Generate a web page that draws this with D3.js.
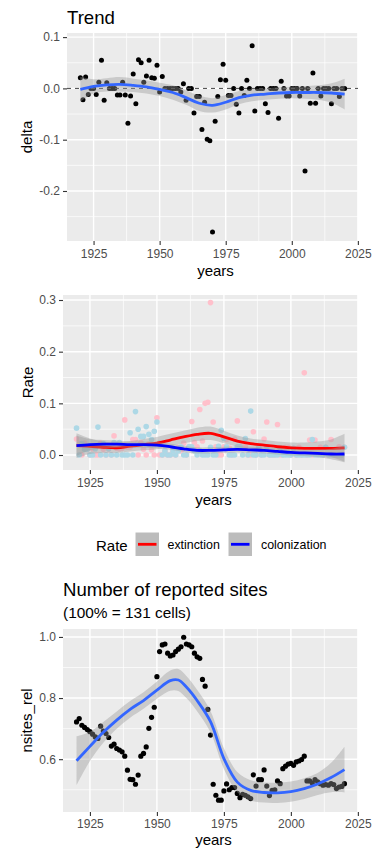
<!DOCTYPE html>
<html>
<head>
<meta charset="utf-8">
<script src="https://cdn.jsdelivr.net/npm/d3@7"></script>
<style>
  body { margin: 0; background: #ffffff; }
  svg { display: block; font-family: "Liberation Sans", Arial, sans-serif; }
</style>
</head>
<body>
<div id="chart"></div>
<script>
/* yearly values, 1920 - 2020 */
var years = [1920, 1921, 1922, 1923, 1924, 1925, 1926, 1927, 1928, 1929,
             1930, 1931, 1932, 1933, 1934, 1935, 1936, 1937, 1938, 1939,
             1940, 1941, 1942, 1943, 1944, 1945, 1946, 1947, 1948, 1949,
             1950, 1951, 1952, 1953, 1954, 1955, 1956, 1957, 1958, 1959,
             1960, 1961, 1962, 1963, 1964, 1965, 1966, 1967, 1968, 1969,
             1970, 1971, 1972, 1973, 1974, 1975, 1976, 1977, 1978, 1979,
             1980, 1981, 1982, 1983, 1984, 1985, 1986, 1987, 1988, 1989,
             1990, 1991, 1992, 1993, 1994, 1995, 1996, 1997, 1998, 1999,
             2000, 2001, 2002, 2003, 2004, 2005, 2006, 2007, 2008, 2009,
             2010, 2011, 2012, 2013, 2014, 2015, 2016, 2017, 2018, 2019,
             2020]

var delta = [0.021, -0.022, 0.022, -0.012, 0.0, 0.0, -0.012, 0.012, 0.055, -0.023,
             0.011, 0.0, 0.0, 0.0, -0.013, -0.013, 0.012, -0.013, -0.068, -0.015,
             0.028, -0.030, 0.056, 0.050, 0.012, 0.024, 0.055, 0.021, 0.020, 0.045,
             -0.007, 0.023, 0.0, 0.0, 0.0, 0.0, 0.0, 0.0, -0.007, 0.009,
             -0.023, 0.0, 0.0, -0.048, -0.016, -0.016, -0.080, -0.027, -0.099, -0.102,
             -0.280, -0.064, -0.016, 0.017, 0.047, 0.016, -0.014, -0.014, 0.0, -0.031,
             -0.048, 0.0, -0.014, 0.016, 0.0, 0.083, -0.044, 0.0, 0.0, 0.0,
             -0.030, -0.047, 0.0, 0.0, 0.0, -0.058, 0.014, 0.0, -0.015, -0.015,
             0.0, 0.0, 0.0, -0.015, 0.0, -0.161, 0.0, -0.029, 0.030, -0.029,
             0.0, -0.015, 0.0, 0.0, 0.0, -0.030, 0.0, 0.0, -0.016, 0.0,
             0.0]

var extinction = [0.031, 0.022, 0.0, 0.023, 0.011, 0.0, 0.012, 0.0, 0.0, 0.023,
                  0.011, 0.0, 0.012, 0.0, 0.037, 0.013, 0.012, 0.013, 0.068, 0.015,
                  0.015, 0.030, 0.030, 0.0, 0.024, 0.011, 0.0, 0.021, 0.010, 0.0,
                  0.072, 0.0, 0.0, 0.008, 0.0, 0.0, 0.008, 0.0, 0.015, 0.008,
                  0.023, 0.0, 0.016, 0.065, 0.024, 0.016, 0.088, 0.027, 0.100, 0.102,
                  0.295, 0.064, 0.016, 0.0, 0.0, 0.016, 0.030, 0.014, 0.0, 0.031,
                  0.066, 0.016, 0.014, 0.016, 0.0, 0.0, 0.045, 0.0, 0.014, 0.0,
                  0.031, 0.064, 0.0, 0.0, 0.0, 0.059, 0.0, 0.0, 0.015, 0.015,
                  0.0, 0.013, 0.0, 0.015, 0.0, 0.159, 0.0, 0.029, 0.0, 0.029,
                  0.0, 0.015, 0.0, 0.015, 0.0, 0.030, 0.0, 0.0, 0.016, 0.0,
                  0.015]

var colonization = [0.052, 0.0, 0.022, 0.011, 0.011, 0.0, 0.0, 0.012, 0.054, 0.0,
                    0.022, 0.0, 0.012, 0.0, 0.024, 0.0, 0.024, 0.0, 0.0, 0.0,
                    0.043, 0.0, 0.084, 0.050, 0.036, 0.036, 0.055, 0.040, 0.030, 0.046,
                    0.064, 0.023, 0.0, 0.008, 0.0, 0.0, 0.008, 0.0, 0.008, 0.016,
                    0.0, 0.0, 0.016, 0.016, 0.008, 0.0, 0.008, 0.0, 0.0, 0.0,
                    0.015, 0.0, 0.0, 0.017, 0.048, 0.032, 0.016, 0.0, 0.0, 0.0,
                    0.016, 0.016, 0.0, 0.032, 0.0, 0.085, 0.0, 0.0, 0.014, 0.0,
                    0.0, 0.016, 0.0, 0.0, 0.0, 0.0, 0.014, 0.0, 0.0, 0.0,
                    0.0, 0.013, 0.0, 0.0, 0.0, 0.0, 0.0, 0.0, 0.030, 0.0,
                    0.0, 0.0, 0.0, 0.015, 0.0, 0.0, 0.0, 0.0, 0.0, 0.0,
                    0.015]

var nsites_rel = [0.722, 0.733, 0.711, 0.704, 0.697, 0.690, 0.682, 0.673, 0.668, 0.708,
                  0.692, 0.684, 0.671, 0.643, 0.649, 0.635, 0.630, 0.624, 0.610, 0.564,
                  0.534, 0.533, 0.518, 0.548, 0.610, 0.619, 0.640, 0.701, 0.737, 0.770,
                  0.870, 0.952, 0.974, 0.977, 0.947, 0.938, 0.941, 0.952, 0.960, 0.968,
                  0.999, 0.977, 0.974, 0.968, 0.947, 0.935, 0.930, 0.861, 0.839, 0.763,
                  0.679, 0.518, 0.482, 0.466, 0.466, 0.496, 0.519, 0.500, 0.507, 0.507,
                  0.488, 0.474, 0.485, 0.482, 0.477, 0.471, 0.549, 0.512, 0.533, 0.533,
                  0.565, 0.512, 0.481, 0.498, 0.500, 0.529, 0.520, 0.569, 0.577, 0.584,
                  0.586, 0.580, 0.591, 0.594, 0.599, 0.610, 0.529, 0.529, 0.522, 0.533,
                  0.526, 0.520, 0.515, 0.517, 0.515, 0.520, 0.517, 0.504, 0.509, 0.511,
                  0.520]

/* loess curves: fit and half width of the grey band */
var smoothYears = [1920, 1925, 1930, 1935, 1940, 1945, 1950, 1955, 1960, 1965, 1970,
                   1975, 1980, 1985, 1990, 1995, 2000, 2005, 2010, 2015, 2020]
var deltaFit = [-0.002, 0.004, 0.007, 0.008, 0.006, 0.003, -0.002, -0.008, -0.018, -0.029, -0.033,
                -0.027, -0.018, -0.013, -0.011, -0.009, -0.008, -0.008, -0.008, -0.009, -0.011]
var deltaSe = [0.024, 0.014, 0.013, 0.014, 0.013, 0.013, 0.013, 0.014, 0.014, 0.015, 0.014,
               0.014, 0.013, 0.012, 0.011, 0.011, 0.011, 0.012, 0.014, 0.019, 0.030]
var extFit = [0.018, 0.017, 0.015, 0.014, 0.017, 0.020, 0.023, 0.029, 0.035, 0.040, 0.042,
              0.035, 0.027, 0.022, 0.019, 0.016, 0.014, 0.013, 0.013, 0.013, 0.014]
var extSe = [0.024, 0.015, 0.011, 0.010, 0.010, 0.011, 0.012, 0.012, 0.012, 0.013, 0.013,
             0.012, 0.011, 0.010, 0.010, 0.010, 0.010, 0.011, 0.013, 0.017, 0.027]
var colFit = [0.018, 0.020, 0.021, 0.021, 0.020, 0.020, 0.019, 0.016, 0.012, 0.009, 0.009,
              0.010, 0.011, 0.010, 0.009, 0.007, 0.005, 0.004, 0.003, 0.002, 0.002]
var colSe = [0.020, 0.011, 0.008, 0.007, 0.006, 0.006, 0.006, 0.006, 0.006, 0.006, 0.006,
             0.006, 0.006, 0.006, 0.006, 0.006, 0.006, 0.006, 0.007, 0.010, 0.016]

var sitesSmoothYears = [1920, 1925, 1930, 1935, 1940, 1945, 1950, 1955, 1958, 1961, 1965,
                        1970, 1975, 1980, 1985, 1990, 1995, 2000, 2005, 2010, 2015, 2020]
var sitesFit = [0.595, 0.642, 0.688, 0.728, 0.763, 0.792, 0.826, 0.857, 0.859, 0.836, 0.792,
                0.723, 0.602, 0.525, 0.498, 0.491, 0.490, 0.494, 0.504, 0.519, 0.540, 0.566]
var sitesSe = [0.080, 0.048, 0.034, 0.028, 0.027, 0.027, 0.028, 0.033, 0.036, 0.036, 0.035,
               0.035, 0.034, 0.033, 0.033, 0.033, 0.033, 0.033, 0.034, 0.036, 0.048, 0.075]

var xMajor = [1925, 1950, 1975, 2000, 2025]
var xMinor = [1937.5, 1962.5, 1987.5, 2012.5]
var rateLabels = ["extinction", "colonization"]

// panels stop at x = 358, the rest of the width stays white
var W = 379, H = 848, panelRight = 358
var svg = d3.select("#chart").append("svg")
            .attr("width", W)
            .attr("height", H)

var fmt = function(d) { return d.toFixed(1) }

function panel(top, bottom, left, yDomain, yMajor, yMinor, yTitle, yTitleX, titleY, pad) {
    var x = d3.scaleLinear().domain([1914.95, 2025.05]).range([left, panelRight])
    var y = d3.scaleLinear().domain(yDomain).range([bottom, top])
    var g = svg.append("g")

    g.append("rect")
     .attr("x", left).attr("y", top)
     .attr("width", panelRight - left).attr("height", bottom - top)
     .attr("fill", "#EBEBEB")

    g.selectAll(".ymin").data(yMinor).enter().append("line")
     .attr("x1", left).attr("x2", panelRight)
     .attr("y1", y).attr("y2", y)
     .attr("stroke", "#fff").attr("stroke-width", 0.7)
    g.selectAll(".xmin").data(xMinor).enter().append("line")
     .attr("x1", x).attr("x2", x)
     .attr("y1", top).attr("y2", bottom)
     .attr("stroke", "#fff").attr("stroke-width", 0.7)
    g.selectAll(".ymaj").data(yMajor).enter().append("line")
     .attr("x1", left).attr("x2", panelRight)
     .attr("y1", y).attr("y2", y)
     .attr("stroke", "#fff").attr("stroke-width", 1.4)
    g.selectAll(".xmaj").data(xMajor).enter().append("line")
     .attr("x1", x).attr("x2", x)
     .attr("y1", top).attr("y2", bottom)
     .attr("stroke", "#fff").attr("stroke-width", 1.4)

    var yAxis = g.append("g")
                 .attr("transform", "translate(" + left + ",0)")
                 .call(d3.axisLeft(y).tickValues(yMajor).tickFormat(fmt).tickSize(4).tickPadding(3))
    var xAxis = g.append("g")
                 .attr("transform", "translate(0," + bottom + ")")
                 .call(d3.axisBottom(x).tickValues(xMajor).tickFormat(d3.format("d")).tickSize(4).tickPadding(pad))
    ;[yAxis, xAxis].forEach(function(a) {
        a.select(".domain").remove()
        a.selectAll("line").attr("stroke", "#333333").attr("stroke-width", 1.1)
        a.selectAll("text").attr("fill", "#4D4D4D").style("font-size", "12px")
         .style("font-family", '"Liberation Sans", Arial, sans-serif')
    })

    g.append("text")
     .attr("x", (left + panelRight) / 2 + 3).attr("y", titleY)
     .attr("text-anchor", "middle")
     .style("font-size", "15px")
     .text("years")
    g.append("text")
     .attr("transform", "translate(" + yTitleX + "," + (top + bottom) / 2 + ")rotate(-90)")
     .attr("text-anchor", "middle")
     .style("font-size", "15px")
     .text(yTitle)

    return { x: x, y: y, g: g }
}

function smooth(p, xs, fit, se, color) {
    var pts = xs.map(function(d, i) { return { yr: d, f: fit[i], s: se[i] } })
    p.g.append("path")
       .datum(pts)
       .attr("fill", "#999999").attr("fill-opacity", 0.4)
       .attr("d", d3.area()
                    .curve(d3.curveCatmullRom)
                    .x(function(d) { return p.x(d.yr) })
                    .y0(function(d) { return p.y(d.f - d.s) })
                    .y1(function(d) { return p.y(d.f + d.s) }))
    p.g.append("path")
       .datum(pts)
       .attr("fill", "none").attr("stroke", color).attr("stroke-width", 2.8)
       .attr("d", d3.line()
                    .curve(d3.curveCatmullRom)
                    .x(function(d) { return p.x(d.yr) })
                    .y(function(d) { return p.y(d.f) }))
}

/* Trend panel */
svg.append("text").attr("x", 67).attr("y", 24).style("font-size", "18.6px").text("Trend")
var p1 = panel(33, 241, 67, [-0.2975, 0.108], [-0.2, -0.1, 0.0, 0.1], [-0.25, -0.15, -0.05, 0.05], "delta", 31.5, 276, 4)
p1.g.selectAll(".pt").data(years).enter().append("circle")
    .attr("cx", function(d) { return p1.x(d) })
    .attr("cy", function(d, i) { return p1.y(delta[i]) })
    .attr("r", 2.5).attr("fill", "#000")
p1.g.append("line")
    .attr("x1", 67).attr("x2", panelRight)
    .attr("y1", p1.y(0)).attr("y2", p1.y(0))
    .attr("stroke", "#444").attr("stroke-width", 1).attr("stroke-dasharray", "4,4")
smooth(p1, smoothYears, deltaFit, deltaSe, "#3366FF")

/* Rate panel */
var p2 = panel(295, 470, 63, [-0.029, 0.3097], [0.0, 0.1, 0.2, 0.3], [0.05, 0.15, 0.25], "Rate", 33, 505, 4)
p2.g.selectAll(".ext").data(years).enter().append("circle")
    .attr("cx", function(d) { return p2.x(d) })
    .attr("cy", function(d, i) { return p2.y(extinction[i]) })
    .attr("r", 2.8).attr("fill", "pink")
p2.g.selectAll(".col").data(years).enter().append("circle")
    .attr("cx", function(d) { return p2.x(d) })
    .attr("cy", function(d, i) { return p2.y(colonization[i]) })
    .attr("r", 2.8).attr("fill", "lightblue")
smooth(p2, smoothYears, extFit, extSe, "#FF0000")
smooth(p2, smoothYears, colFit, colSe, "#0000FF")

// legend
var leg = svg.append("g")
leg.append("text").attr("x", 96).attr("y", 550.5).style("font-size", "15px").text("Rate")
var keyX = [135, 228], labX = [167.5, 261]
rateLabels.forEach(function(lab, i) {
    leg.append("rect")
       .attr("x", keyX[i]).attr("y", 532)
       .attr("width", 24.5).attr("height", 24.5)
       .attr("fill", "#BCBCBC").attr("stroke", "#fff").attr("stroke-width", 1)
    leg.append("line")
       .attr("x1", keyX[i] + 3).attr("x2", keyX[i] + 21.5)
       .attr("y1", 544.3).attr("y2", 544.3)
       .attr("stroke", i == 0 ? "#FF0000" : "#0000FF").attr("stroke-width", 2.8)
    leg.append("text")
       .attr("x", labX[i]).attr("y", 548.5)
       .style("font-size", "12.4px")
       .text(lab)
})

/* Number of reported sites panel */
svg.append("text").attr("x", 63).attr("y", 595.5).style("font-size", "18.6px").text("Number of reported sites")
svg.append("text").attr("x", 63).attr("y", 618).style("font-size", "15.4px").text("(100% = 131 cells)")
var p3 = panel(629, 812, 63, [0.4272, 1.026], [0.6, 0.8, 1.0], [0.5, 0.7, 0.9], "nsites_rel", 32, 844.8, 3)
p3.g.selectAll(".pt").data(years).enter().append("circle")
    .attr("cx", function(d) { return p3.x(d) })
    .attr("cy", function(d, i) { return p3.y(nsites_rel[i]) })
    .attr("r", 2.6).attr("fill", "#000")
smooth(p3, sitesSmoothYears, sitesFit, sitesSe, "#3366FF")
</script>
</body>
</html>
